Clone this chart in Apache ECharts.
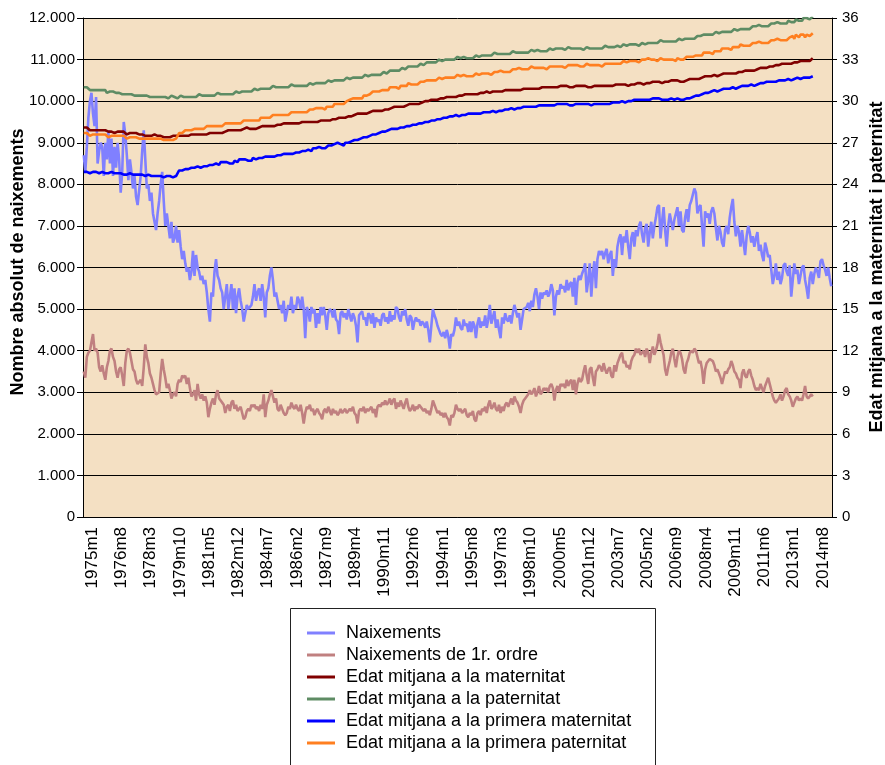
<!DOCTYPE html>
<html><head><meta charset="utf-8">
<script src="https://cdn.jsdelivr.net/npm/echarts@6/dist/echarts.min.js"></script>
<style>html,body{margin:0;padding:0;background:#fff}#c{width:885px;height:765px}</style>
</head><body><div id="c"></div>
<script>
// Categories: monthly, 1975m1 .. 2015m7
const FIRST_YEAR = 1975, LAST_YEAR = 2015, LAST_MONTH = 7;
const categories = [];
for (let y = FIRST_YEAR; y <= LAST_YEAR; y++) {
  for (let m = 1; m <= 12; m++) {
    if (y === LAST_YEAR && m > LAST_MONTH) break;
    categories.push(y + 'm' + m);
  }
}
const seriesNames = ['Naixements','Naixements de 1r. ordre','Edat mitjana a la maternitat','Edat mitjana a la paternitat','Edat mitjana a la primera maternitat','Edat mitjana a la primera paternitat'];

const naixements = [
8700,8300,8900,9600,10000,10200,9700,9400,10100,8500,8800,9000,
8900,8200,9000,8600,9300,8500,9100,8200,8900,8400,9000,8600,
7800,8300,9500,9200,8700,8100,8600,8300,7900,8200,7700,7500,
7500,8200,8800,9300,8600,7900,8000,7600,7800,7300,7100,6900,
7300,7600,8000,8300,7600,7000,7300,7000,6700,7100,6600,6700,
7000,6600,6900,6500,6200,6400,6100,5900,6000,5700,5900,6400,
5800,6300,6000,5900,5700,5800,5600,5700,5400,5000,4700,5400,
5300,5900,6200,5800,5700,5500,5400,5000,5300,5600,5000,5300,
5600,5000,5500,4900,5300,5500,5200,5000,4700,4900,5100,5000,
5000,5100,5300,5600,5200,5400,5500,5200,5600,5300,4800,5400,
5500,5800,6000,5700,5300,5400,5200,5000,5100,4900,5200,4700,
4700,5100,5000,5300,4900,5100,5000,5300,5200,5000,5300,5000,
4300,5050,4950,4700,5050,4900,5000,4550,4900,4650,5050,4850,
5050,4850,4500,4900,5000,4950,4800,5000,4750,4700,4400,4900,
4950,4800,4900,4750,5000,4850,4700,4900,4800,4600,4200,4850,
4900,4950,4750,4800,4600,4900,4850,4650,4900,4550,4800,4700,
4750,4600,4850,4900,4700,4800,4650,4950,4700,4850,4750,5050,
5000,4800,4700,4950,4850,5000,4750,4600,4850,4800,4500,4700,
4800,4700,4750,4600,4700,4650,4550,4700,4500,4200,4600,5000,
4850,4750,4600,4500,4400,4350,4450,4300,4500,4350,4050,4400,
4350,4500,4800,4600,4700,4550,4500,4750,4600,4650,4450,4700,
4450,4700,4600,4300,4650,4800,4550,4700,4600,4850,4550,4750,
5100,4650,4800,4950,4550,4750,4500,4300,4800,4650,4900,4750,
4700,4850,4650,4900,5100,4950,4800,4900,4500,4750,5000,5000,
5050,5150,4950,5200,5050,5350,5500,5300,5000,5400,5250,5400,
5350,5450,5300,5400,5600,5450,4850,5300,5450,5350,5600,5500,
5550,5400,5700,5450,5600,5650,5300,5750,5100,5650,5800,5700,
5850,5950,6100,5400,5700,6100,5300,5850,6150,5500,6200,6400,
6300,6400,6200,6350,6450,6100,6300,6400,5800,6200,6000,6500,
6700,6800,6300,6750,6600,6900,6500,6200,6700,6850,6500,6900,
6750,7000,7100,6800,6600,6950,7050,6500,6850,7100,6700,7000,
7200,7450,7500,6700,7100,7450,6900,6500,7000,7300,7100,6900,
7150,7300,7450,7000,7350,6900,6850,7200,7400,7100,7500,7600,
7750,7900,7800,7300,7450,7500,7000,6500,7350,7200,7300,7050,
7350,7450,7300,6950,6650,7000,6850,6600,6500,6900,7000,6800,
7200,7450,7650,7100,6750,7000,6850,6500,6900,6600,6300,6750,
7000,6850,6600,6750,6500,6700,6850,6400,6550,6300,6150,6600,
6450,6250,6300,5950,5600,5800,6100,5700,5900,5600,5750,6050,
6100,5900,5800,6050,5300,5700,6100,5850,5950,5600,5800,6000,
6050,5700,5500,5250,5750,5900,5600,5850,6000,5900,5750,6150,
6200,6050,5950,5800,6000,5750,5550];

const naixements1rOrdre = [
3500,3350,3850,3950,4000,4200,4400,4000,4050,3950,3600,3500,
3650,3450,3300,3600,3750,4000,4050,3850,3750,3500,3350,3550,
3600,3400,3150,3700,4000,4050,3950,3750,3550,3500,3300,3200,
3200,3300,3150,3600,4150,3850,3700,3450,3350,3200,3050,2950,
2950,3000,3450,3800,3550,3350,3100,3200,3050,2850,2950,3000,
2900,3200,3300,3250,3400,3350,3400,3200,3350,3100,2900,2950,
3050,2800,3200,2950,2850,2950,2800,2900,2750,2400,2600,2750,
2850,2700,2950,3050,2850,2800,2750,2700,2500,2650,2700,2550,
2750,2800,2600,2700,2550,2600,2650,2500,2350,2400,2550,2600,
2550,2700,2650,2700,2600,2650,2550,2700,2600,2950,2400,2700,
2800,2950,3050,2900,2750,2850,2600,2550,2700,2600,2500,2450,
2500,2650,2600,2750,2650,2600,2700,2600,2550,2700,2500,2250,
2500,2650,2600,2700,2550,2600,2450,2550,2600,2500,2450,2350,
2550,2600,2500,2650,2550,2450,2600,2500,2550,2450,2500,2600,
2500,2550,2600,2500,2550,2600,2550,2650,2500,2450,2250,2550,
2600,2550,2650,2500,2600,2550,2600,2650,2500,2600,2400,2650,
2700,2650,2750,2700,2800,2700,2750,2850,2700,2800,2850,2600,
2750,2650,2800,2700,2600,2750,2850,2650,2550,2600,2700,2550,
2650,2600,2700,2650,2600,2550,2600,2500,2550,2450,2600,2800,
2700,2600,2500,2550,2450,2500,2400,2500,2400,2350,2200,2450,
2400,2500,2700,2600,2550,2600,2500,2550,2600,2450,2400,2500,
2450,2550,2350,2300,2500,2550,2450,2600,2550,2650,2500,2700,
2800,2600,2650,2750,2600,2550,2700,2500,2650,2550,2700,2750,
2650,2750,2850,2700,2900,2800,2750,2650,2500,2700,2800,2850,
2850,2950,3050,2950,3000,3100,2900,3000,3150,2950,3000,3100,
3050,3100,3000,3150,3200,3100,2800,3050,3150,3000,3200,3150,
3200,3100,3300,3150,3250,3300,3050,3300,2950,3200,3350,3250,
3300,3500,3650,3400,3200,3550,3600,3350,3150,3500,3550,3650,
3600,3500,3700,3550,3450,3550,3600,3400,3350,3650,3500,3700,
3800,3900,3950,3700,3750,3600,3650,3550,3750,3850,3900,4050,
3950,4050,3900,3950,4000,3850,4050,3950,3700,3950,4100,3900,
4000,4150,4400,4200,4050,3900,3550,3400,3600,3750,3950,4050,
3800,3600,3850,4000,3950,3800,3550,3450,3700,3800,3950,4000,
3950,4050,4000,3850,3700,3750,3550,3200,3550,3700,3750,3800,
3800,3750,3650,3500,3550,3450,3350,3200,3350,3500,3450,3550,
3600,3750,3650,3500,3450,3350,3300,3100,3450,3550,3400,3350,
3500,3550,3400,3300,3150,3050,3100,3050,3200,3100,3000,3150,
3250,3350,3200,3050,2900,2800,2750,2800,2850,2950,2800,2900,
3050,3100,2950,2900,2800,2650,2750,2850,2900,2800,2850,2800,
2950,3150,2900,2850,2900,2950,2900];

const edatMaternitat = [
28.1,28.0,28.1,28.0,27.9,28.0,27.9,28.0,27.9,27.9,27.9,27.8,
27.9,27.8,27.9,27.8,27.8,27.9,27.8,27.8,27.7,27.8,27.8,27.7,
27.8,27.7,27.8,27.7,27.6,27.7,27.7,27.6,27.7,27.6,27.7,27.6,
27.6,27.5,27.6,27.6,27.5,27.6,27.5,27.6,27.5,27.5,27.6,27.5,
27.5,27.4,27.5,27.5,27.4,27.5,27.4,27.5,27.4,27.5,27.5,27.4,
27.5,27.4,27.5,27.6,27.5,27.6,27.5,27.6,27.5,27.6,27.6,27.5,
27.6,27.5,27.6,27.7,27.6,27.7,27.6,27.7,27.6,27.7,27.7,27.6,
27.7,27.6,27.7,27.8,27.7,27.8,27.7,27.8,27.8,27.9,27.9,27.8,
27.9,27.8,27.9,28.0,27.9,28.0,27.9,28.0,28.0,28.1,28.1,28.0,
28.0,27.9,28.0,28.1,28.0,28.1,28.1,28.2,28.2,28.3,28.2,28.2,
28.2,28.1,28.2,28.3,28.2,28.3,28.3,28.4,28.3,28.4,28.4,28.3,
28.4,28.3,28.4,28.5,28.4,28.4,28.4,28.5,28.4,28.5,28.5,28.4,
28.5,28.4,28.5,28.6,28.5,28.5,28.5,28.6,28.5,28.6,28.6,28.5,
28.6,28.5,28.6,28.7,28.6,28.7,28.7,28.8,28.7,28.8,28.8,28.7,
28.8,28.7,28.8,28.9,28.9,29.0,28.9,29.0,29.0,29.1,29.1,29.0,
29.1,29.0,29.1,29.2,29.1,29.2,29.2,29.3,29.3,29.4,29.3,29.3,
29.3,29.2,29.3,29.4,29.4,29.5,29.4,29.5,29.5,29.6,29.6,29.5,
29.6,29.5,29.6,29.7,29.6,29.7,29.7,29.8,29.8,29.9,29.8,29.8,
29.8,29.7,29.8,29.9,29.9,30.0,30.0,30.1,30.0,30.1,30.1,30.0,
30.1,30.0,30.1,30.2,30.2,30.3,30.2,30.3,30.3,30.4,30.3,30.3,
30.3,30.2,30.3,30.4,30.4,30.5,30.4,30.5,30.5,30.6,30.5,30.5,
30.5,30.4,30.5,30.6,30.5,30.6,30.6,30.7,30.6,30.7,30.7,30.6,
30.6,30.5,30.7,30.7,30.7,30.8,30.7,30.8,30.7,30.8,30.8,30.7,
30.8,30.7,30.8,30.9,30.8,30.9,30.8,30.9,30.8,30.9,30.9,30.8,
30.9,30.8,30.9,31.0,30.9,31.0,30.9,31.0,30.9,31.0,31.0,30.9,
31.0,30.9,31.0,31.1,31.0,31.1,31.0,31.1,31.0,31.1,31.1,31.0,
31.1,31.0,31.1,31.1,31.0,31.1,31.0,31.1,31.1,31.2,31.1,31.0,
31.1,31.0,31.1,31.1,31.0,31.1,31.0,31.1,31.1,31.2,31.1,31.0,
31.1,31.0,31.1,31.2,31.1,31.2,31.1,31.2,31.1,31.2,31.2,31.1,
31.2,31.1,31.2,31.3,31.2,31.2,31.1,31.2,31.2,31.3,31.2,31.2,
31.3,31.2,31.3,31.3,31.2,31.3,31.3,31.4,31.3,31.4,31.4,31.3,
31.4,31.3,31.4,31.4,31.3,31.4,31.4,31.5,31.4,31.5,31.5,31.4,
31.5,31.4,31.5,31.5,31.4,31.5,31.4,31.5,31.5,31.6,31.6,31.5,
31.6,31.5,31.6,31.7,31.6,31.7,31.7,31.8,31.8,31.9,31.8,31.8,
31.8,31.7,31.9,31.9,31.8,31.9,31.9,32.0,32.0,32.1,32.0,32.0,
32.0,31.9,32.0,32.1,32.0,32.1,32.1,32.2,32.1,32.2,32.2,32.1,
32.2,32.1,32.2,32.3,32.2,32.3,32.3,32.4,32.4,32.5,32.4,32.4,
32.4,32.3,32.5,32.6,32.5,32.6,32.6,32.7,32.6,32.7,32.7,32.6,
32.7,32.6,32.7,32.8,32.7,32.8,32.8,32.9,32.8,32.9,32.9,32.8,
32.9,32.8,32.9,33.0,32.9,33.0,33.1];

const edatPaternitat = [
31.0,30.9,31.0,30.9,30.8,30.9,30.8,30.9,30.8,30.7,30.8,30.7,
30.8,30.7,30.8,30.6,30.7,30.7,30.6,30.7,30.6,30.6,30.7,30.6,
30.6,30.5,30.6,30.5,30.6,30.5,30.4,30.5,30.5,30.4,30.5,30.4,
30.5,30.4,30.5,30.4,30.3,30.4,30.4,30.3,30.4,30.3,30.4,30.3,
30.4,30.3,30.4,30.3,30.2,30.3,30.3,30.2,30.3,30.4,30.3,30.3,
30.3,30.2,30.3,30.4,30.3,30.3,30.2,30.3,30.4,30.3,30.4,30.3,
30.4,30.3,30.4,30.5,30.4,30.4,30.3,30.4,30.5,30.4,30.5,30.4,
30.5,30.4,30.5,30.6,30.5,30.5,30.4,30.5,30.6,30.5,30.6,30.5,
30.6,30.5,30.6,30.7,30.6,30.6,30.5,30.7,30.8,30.7,30.8,30.7,
30.8,30.7,30.8,30.9,30.8,30.8,30.7,30.9,31.0,30.9,31.0,30.9,
30.9,30.9,31.0,31.1,31.0,31.0,30.9,31.0,31.1,31.0,31.1,31.0,
31.1,31.0,31.1,31.2,31.1,31.1,31.0,31.1,31.2,31.1,31.2,31.1,
31.2,31.1,31.2,31.3,31.2,31.2,31.1,31.3,31.4,31.3,31.4,31.3,
31.4,31.3,31.4,31.5,31.4,31.4,31.3,31.5,31.6,31.5,31.6,31.5,
31.6,31.5,31.6,31.7,31.6,31.6,31.5,31.7,31.8,31.7,31.8,31.7,
31.8,31.7,31.8,31.9,31.8,31.8,31.7,31.9,32.0,31.9,32.0,31.9,
32.0,31.9,32.0,32.1,32.0,32.0,32.0,32.2,32.3,32.2,32.3,32.2,
32.3,32.2,32.3,32.4,32.3,32.3,32.3,32.5,32.6,32.5,32.6,32.5,
32.6,32.5,32.6,32.7,32.6,32.6,32.6,32.8,32.9,32.8,32.9,32.8,
32.9,32.8,32.9,33.0,32.9,32.9,32.9,33.0,33.1,33.0,33.1,33.0,
33.1,33.0,33.1,33.2,33.1,33.1,33.0,33.2,33.2,33.1,33.2,33.1,
33.2,33.1,33.2,33.3,33.2,33.2,33.2,33.3,33.4,33.3,33.4,33.3,
33.4,33.3,33.4,33.5,33.4,33.4,33.3,33.4,33.5,33.4,33.5,33.4,
33.5,33.4,33.5,33.6,33.5,33.5,33.4,33.5,33.6,33.5,33.6,33.5,
33.6,33.5,33.6,33.7,33.6,33.6,33.5,33.7,33.7,33.6,33.7,33.6,
33.7,33.6,33.7,33.8,33.7,33.7,33.7,33.8,33.9,33.8,33.9,33.8,
33.8,33.7,33.8,33.9,33.8,33.8,33.7,33.8,33.9,33.8,33.9,33.8,
33.8,33.7,33.8,33.9,33.8,33.8,33.7,33.8,33.9,33.8,33.9,33.8,
33.9,33.8,33.9,34.0,33.9,33.9,33.8,33.9,34.0,33.9,34.0,34.0,
34.0,33.9,34.0,34.1,34.0,34.0,34.0,34.1,34.2,34.1,34.2,34.1,
34.1,34.0,34.1,34.2,34.1,34.1,34.1,34.2,34.3,34.2,34.3,34.2,
34.3,34.2,34.3,34.4,34.3,34.3,34.2,34.3,34.4,34.3,34.4,34.3,
34.4,34.3,34.4,34.5,34.4,34.4,34.3,34.5,34.6,34.5,34.6,34.5,
34.6,34.5,34.6,34.7,34.6,34.7,34.6,34.8,34.9,34.8,34.9,34.8,
34.9,34.8,34.9,35.0,34.9,34.9,34.8,35.0,35.1,35.0,35.1,35.0,
35.1,35.0,35.1,35.2,35.1,35.1,35.1,35.2,35.3,35.2,35.3,35.2,
35.3,35.2,35.3,35.4,35.3,35.4,35.3,35.5,35.5,35.4,35.5,35.4,
35.5,35.4,35.5,35.6,35.5,35.6,35.5,35.7,35.7,35.6,35.7,35.6,
35.7,35.6,35.8,35.8,35.7,35.8,35.7,35.9,35.9,35.8,35.9,35.8,
36.0,35.9,36.0,36.0,35.9,36.0,36.1];

const edatPrimeraMaternitat = [
24.9,24.8,24.9,24.9,24.8,24.9,24.9,24.8,24.9,24.9,24.8,24.9,
24.9,24.8,24.8,24.9,24.8,24.8,24.9,24.8,24.8,24.7,24.8,24.8,
24.8,24.7,24.7,24.8,24.7,24.7,24.8,24.7,24.7,24.6,24.7,24.7,
24.7,24.6,24.7,24.7,24.6,24.6,24.7,24.6,24.6,24.5,24.6,24.6,
24.6,24.5,24.6,24.6,24.5,24.6,24.6,24.5,24.6,24.6,24.5,24.6,
24.6,24.7,25.0,25.1,25.0,25.1,25.1,25.2,25.1,25.2,25.2,25.1,
25.2,25.1,25.3,25.3,25.2,25.3,25.3,25.4,25.3,25.4,25.4,25.3,
25.4,25.3,25.5,25.5,25.4,25.6,25.5,25.6,25.5,25.6,25.6,25.5,
25.6,25.5,25.7,25.7,25.6,25.8,25.7,25.8,25.7,25.8,25.8,25.7,
25.8,25.7,25.9,25.9,25.8,25.9,25.9,26.0,25.9,26.0,26.0,25.9,
26.0,25.9,26.0,26.1,26.0,26.1,26.1,26.2,26.1,26.2,26.2,26.1,
26.2,26.1,26.2,26.3,26.2,26.3,26.3,26.4,26.3,26.4,26.4,26.3,
26.4,26.3,26.5,26.5,26.4,26.6,26.5,26.6,26.6,26.7,26.6,26.6,
26.7,26.6,26.7,26.8,26.7,26.8,26.8,26.9,26.9,27.0,26.9,26.9,
26.9,26.8,27.0,27.0,27.0,27.1,27.1,27.2,27.2,27.3,27.2,27.2,
27.3,27.2,27.4,27.4,27.4,27.5,27.5,27.6,27.6,27.7,27.6,27.6,
27.7,27.6,27.8,27.8,27.8,27.9,27.9,28.0,28.0,28.1,28.0,28.0,
28.0,27.9,28.1,28.1,28.1,28.2,28.2,28.3,28.2,28.3,28.3,28.2,
28.3,28.2,28.4,28.4,28.4,28.5,28.5,28.6,28.5,28.6,28.6,28.5,
28.6,28.5,28.7,28.7,28.7,28.8,28.8,28.9,28.8,28.9,28.9,28.8,
28.9,28.8,29.0,29.0,28.9,29.0,29.0,29.1,29.0,29.1,29.1,29.0,
29.1,29.0,29.1,29.2,29.1,29.2,29.1,29.2,29.2,29.3,29.2,29.2,
29.2,29.1,29.3,29.3,29.2,29.3,29.3,29.4,29.3,29.4,29.4,29.3,
29.4,29.3,29.5,29.5,29.4,29.5,29.5,29.6,29.5,29.6,29.6,29.5,
29.6,29.5,29.6,29.7,29.6,29.7,29.6,29.7,29.7,29.8,29.7,29.7,
29.7,29.6,29.7,29.8,29.7,29.8,29.7,29.8,29.8,29.9,29.8,29.7,
29.8,29.7,29.8,29.8,29.7,29.8,29.7,29.8,29.8,29.9,29.8,29.7,
29.8,29.7,29.8,29.9,29.8,29.8,29.7,29.8,29.8,29.9,29.8,29.8,
29.8,29.7,29.8,29.9,29.8,29.9,29.8,29.9,29.9,30.0,29.9,29.9,
29.9,29.8,30.0,30.0,29.9,30.0,30.0,30.1,30.0,30.1,30.1,30.0,
30.1,30.0,30.1,30.2,30.1,30.2,30.1,30.2,30.1,30.2,30.2,30.1,
30.2,30.1,30.2,30.2,30.1,30.2,30.1,30.2,30.1,30.2,30.2,30.1,
30.1,30.0,30.2,30.2,30.1,30.2,30.1,30.2,30.2,30.3,30.2,30.2,
30.3,30.2,30.4,30.4,30.4,30.5,30.5,30.6,30.6,30.7,30.6,30.6,
30.7,30.6,30.8,30.8,30.7,30.8,30.8,30.9,30.9,31.0,30.9,30.9,
30.9,30.8,31.0,31.0,30.9,31.0,31.0,31.1,31.1,31.2,31.1,31.1,
31.1,31.0,31.2,31.2,31.1,31.2,31.2,31.3,31.3,31.4,31.3,31.3,
31.4,31.3,31.4,31.5,31.4,31.5,31.4,31.5,31.5,31.6,31.5,31.5,
31.5,31.4,31.6,31.6,31.5,31.6,31.6,31.7,31.7,31.7,31.6,31.6,
31.7,31.6,31.7,31.8,31.7,31.8,31.8];

const edatPrimeraPaternitat = [
27.7,27.6,27.7,27.6,27.5,27.6,27.6,27.5,27.6,27.5,27.6,27.5,
27.6,27.5,27.6,27.5,27.4,27.5,27.5,27.4,27.5,27.4,27.5,27.4,
27.5,27.4,27.5,27.4,27.3,27.4,27.4,27.3,27.4,27.3,27.4,27.3,
27.3,27.2,27.3,27.2,27.3,27.2,27.3,27.2,27.3,27.2,27.3,27.2,
27.3,27.2,27.3,27.2,27.2,27.3,27.2,27.3,27.2,27.3,27.2,27.3,
27.3,27.4,27.7,27.8,27.7,27.8,27.9,27.8,27.9,28.0,27.9,28.0,
28.0,27.9,28.0,28.1,28.0,28.1,28.0,28.1,28.2,28.1,28.2,28.1,
28.2,28.1,28.2,28.3,28.2,28.3,28.2,28.3,28.4,28.3,28.4,28.3,
28.4,28.3,28.4,28.5,28.4,28.5,28.4,28.5,28.6,28.5,28.6,28.5,
28.6,28.5,28.6,28.7,28.6,28.7,28.6,28.8,28.9,28.8,28.9,28.8,
28.9,28.8,28.9,29.0,28.9,29.0,28.9,29.0,29.1,29.0,29.1,29.0,
29.1,29.0,29.1,29.2,29.1,29.2,29.1,29.2,29.3,29.2,29.3,29.2,
29.3,29.2,29.3,29.4,29.3,29.4,29.3,29.5,29.6,29.5,29.6,29.5,
29.5,29.4,29.6,29.7,29.6,29.7,29.6,29.8,29.9,29.8,29.9,29.8,
29.9,29.8,29.9,30.0,30.0,30.1,30.0,30.2,30.3,30.2,30.3,30.2,
30.3,30.2,30.4,30.5,30.4,30.5,30.5,30.6,30.7,30.6,30.7,30.6,
30.7,30.6,30.8,30.9,30.8,30.9,30.8,31.0,31.1,31.0,31.1,31.0,
31.0,30.9,31.1,31.2,31.1,31.2,31.1,31.3,31.3,31.2,31.3,31.2,
31.3,31.2,31.3,31.4,31.3,31.4,31.4,31.5,31.6,31.5,31.6,31.5,
31.6,31.5,31.6,31.7,31.6,31.6,31.6,31.7,31.8,31.7,31.8,31.7,
31.8,31.7,31.8,31.9,31.8,31.8,31.7,31.9,31.9,31.8,31.9,31.8,
31.9,31.8,31.9,32.0,31.9,31.9,31.9,32.0,32.1,32.0,32.1,32.0,
32.0,31.9,32.0,32.1,32.0,32.1,32.0,32.2,32.2,32.1,32.2,32.1,
32.2,32.1,32.2,32.3,32.2,32.3,32.2,32.4,32.4,32.3,32.4,32.3,
32.4,32.3,32.4,32.5,32.4,32.4,32.3,32.4,32.5,32.4,32.5,32.4,
32.4,32.3,32.4,32.5,32.4,32.5,32.4,32.5,32.6,32.5,32.6,32.5,
32.5,32.4,32.5,32.6,32.5,32.6,32.5,32.6,32.7,32.6,32.6,32.5,
32.6,32.5,32.6,32.7,32.6,32.6,32.5,32.6,32.7,32.6,32.7,32.6,
32.6,32.5,32.6,32.7,32.6,32.7,32.6,32.7,32.8,32.7,32.8,32.7,
32.8,32.7,32.8,32.9,32.8,32.8,32.7,32.9,33.0,32.9,33.0,32.9,
32.9,32.8,32.9,33.0,32.9,33.0,32.9,33.1,33.1,33.0,33.1,33.0,
33.0,32.9,33.0,33.1,33.0,33.0,32.9,33.0,33.1,33.0,33.1,33.0,
33.0,32.9,33.1,33.1,33.0,33.1,33.0,33.1,33.2,33.1,33.2,33.1,
33.2,33.1,33.3,33.4,33.3,33.4,33.3,33.5,33.6,33.5,33.6,33.5,
33.5,33.4,33.6,33.7,33.6,33.7,33.6,33.8,33.9,33.8,33.9,33.8,
33.8,33.7,33.9,34.0,33.9,34.0,33.9,34.1,34.1,34.0,34.1,34.0,
34.1,34.0,34.1,34.2,34.1,34.2,34.1,34.3,34.3,34.2,34.3,34.2,
34.3,34.2,34.3,34.4,34.3,34.4,34.3,34.5,34.5,34.4,34.5,34.4,
34.5,34.4,34.5,34.6,34.5,34.7,34.5,34.8,34.7,34.6,34.8,34.7,
34.8,34.6,34.8,34.9,34.7,34.8,34.9];

const seriesColors = ['#8080FF','#C08080','#800000','#5E8C64','#0000FF','#FF7F20'];
const seriesData = [naixements, naixements1rOrdre, edatMaternitat, edatPaternitat, edatPrimeraMaternitat, edatPrimeraPaternitat];
const seriesAxis = [0, 0, 1, 1, 1, 1];

const FONT = 'Arial, "Liberation Sans", sans-serif';
const chart = echarts.init(document.getElementById('c'), null, {renderer: 'canvas'});
const option = {
  animation: false,
  backgroundColor: '#ffffff',
  grid: {left: 83, right: 53, top: 18, bottom: 248, show: true, backgroundColor: '#F4E0C3', borderWidth: 0},
  xAxis: {
    type: 'category', data: categories, boundaryGap: true,
    axisLine: {show: true, lineStyle: {color: '#000', width: 1}},
    axisTick: {show: false},
    axisLabel: {interval: 18, rotate: 90, fontSize: 17, fontFamily: FONT, color: '#000', margin: 10, verticalAlign: 'top'},
    splitLine: {show: false}
  },
  yAxis: [
    {type: 'value', min: 0, max: 12000, interval: 1000, position: 'left',
     axisLine: {show: true, lineStyle: {color: '#000'}},
     axisTick: {show: true, length: 6, lineStyle: {color: '#000'}},
     axisLabel: {fontSize: 15, fontFamily: FONT, color: '#000', margin: 8,
       formatter: v => v === 0 ? '0' : (v / 1000) + '.000'},
     splitLine: {show: true, lineStyle: {color: '#000', width: 1}}},
    {type: 'value', min: 0, max: 36, interval: 3, position: 'right',
     axisLine: {show: true, lineStyle: {color: '#000'}},
     axisTick: {show: true, length: 5, lineStyle: {color: '#000'}},
     axisLabel: {fontSize: 15, fontFamily: FONT, color: '#000', margin: 10},
     splitLine: {show: false}}
  ],
  legend: {
    data: seriesNames, orient: 'vertical', left: 307, top: 624, padding: 0,
    itemWidth: 28, itemHeight: 3, itemGap: 4, icon: 'rect',
    textStyle: {fontSize: 18, fontFamily: FONT, color: '#000', lineHeight: 18, padding: [0, 0, 0, 6]}
  },
  graphic: [
    {type: 'rect', z: 0, shape: {x: 290.5, y: 608.5, width: 365, height: 200},
     style: {fill: '#fff', stroke: '#222', lineWidth: 1}},
    {type: 'text', x: 18, y: 262, rotation: Math.PI / 2,
     style: {text: 'Nombre absolut de naixements', font: 'bold 18px ' + FONT, fill: '#000', align: 'center', verticalAlign: 'middle'}},
    {type: 'text', x: 877, y: 267, rotation: Math.PI / 2,
     style: {text: 'Edat mitjana a la maternitat i paternitat', font: 'bold 18px ' + FONT, fill: '#000', align: 'center', verticalAlign: 'middle'}}
  ],
  series: seriesNames.map((name, i) => ({
    name: name, type: 'line', data: seriesData[i], yAxisIndex: seriesAxis[i],
    showSymbol: false, symbol: 'none', color: seriesColors[i],
    lineStyle: {color: seriesColors[i], width: 2.6}, emphasis: {disabled: true}
  }))
};
chart.setOption(option);
</script>
</body></html>
